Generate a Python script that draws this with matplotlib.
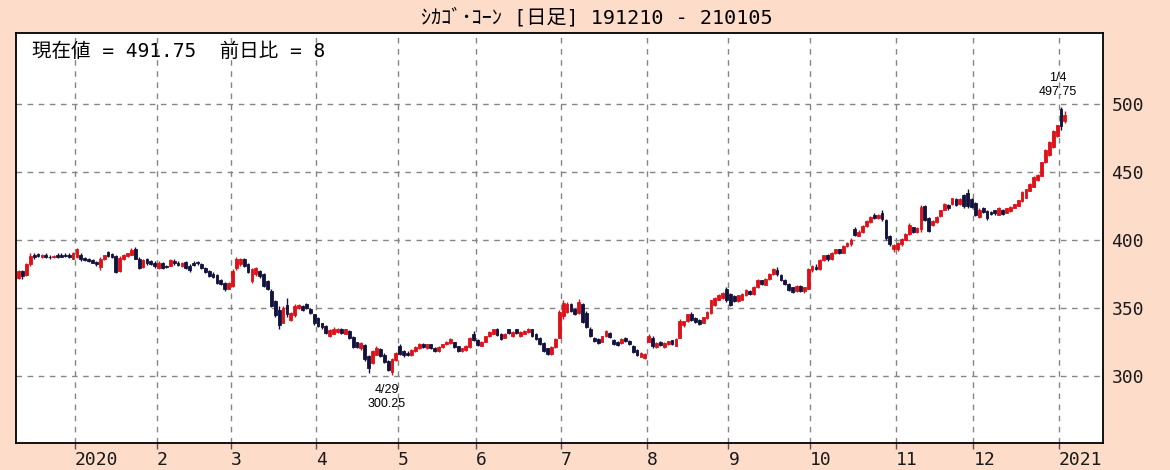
import matplotlib
matplotlib.use("Agg")
import matplotlib.pyplot as plt
import numpy as np
import pandas as pd

# ---------------- data ----------------
title = "ｼｶｺﾞ･ｺｰﾝ [日足] 191210 - 210105"
holidays = ["2019-12-25", "2020-01-01", "2020-01-20", "2020-02-17", "2020-04-10",
            "2020-05-25", "2020-07-03", "2020-09-07", "2020-11-26", "2020-12-25",
            "2021-01-01"]
yticks = [300, 350, 400, 450, 500]

opens = [
    # Dec 2019
    372, 377, 374, 382, 389, 389.25, 387.5, 389, 387.5, 387.25, 389, 388.5, 388.75, 389, 386,
    # Jan
    387, 389, 386.5, 385.5, 385, 383.5, 380, 385.5, 391, 389.5, 388, 377, 386, 388, 389, 393, 386, 380, 385.5, 384, 383,
    # Feb
    379, 382.5, 380.5, 381, 384.5, 383, 381, 383.5, 381, 383, 383.5, 382, 379.5, 377, 375, 374, 370, 368, 364,
    # Mar
    366, 379, 382, 385.5, 382, 369.5, 374.5, 377, 375, 369.5, 362.5, 355, 348, 339, 352, 341, 344.5, 349.5, 351, 353, 349, 345,
    # Apr
    342.5, 338.5, 336.5, 329.5, 331, 332, 334, 331, 333, 328.5, 324.5, 320, 322.5, 314.5, 309, 315.5, 319.5, 315.5, 310.5, 302.5, 311.5,
    # May
    322, 318, 317, 315, 318, 320, 323.5, 320, 323, 320.5, 318, 321, 323, 324, 324.5, 321.5, 318, 319, 321, 331,
    # Jun
    326, 322, 325, 329, 331, 334, 331, 328, 334, 329, 334, 329, 331, 332, 334, 331, 328, 324, 320, 316, 321, 328,
    # Jul
    344, 347, 352.5, 349, 346, 352.5, 346, 334.5, 328, 327, 325, 329, 331.5, 326.5, 325, 324, 328, 325.5, 322, 319, 314, 313,
    # Aug
    325, 328, 321, 325, 321, 323, 326, 322, 328, 337, 340, 345.5, 342.5, 341, 339, 342.5, 346, 352, 356, 357, 364,
    # Sep
    360, 358.5, 355, 356, 359, 362.5, 360, 365, 370, 367, 371, 374.5, 378, 374, 370.5, 367.5, 365, 362, 366, 362.5, 364,
    # Oct
    378, 380, 378.5, 385, 389, 385.5, 390, 393, 390.5, 395, 397, 408, 403, 405.5, 410, 413, 418.5, 416, 420, 414.5, 402.5, 393,
    # Nov
    393, 396.5, 400, 404, 409, 405.5, 408, 425, 416, 410.5, 413, 417.5, 422, 425.5, 426, 430, 426, 433, 434, 430,
    # Dec
    427, 416.5, 423.5, 421, 420.5, 421.5, 418.5, 422, 420, 421, 423.5, 425, 428.5, 431, 436, 439, 444, 447, 457, 462, 468, 476,
    # Jan 2021
    496, 487,
]

highs = [
    378, 378, 383, 390, 390, 390, 389.5, 390, 388.75, 388.5, 390.25, 390, 390.5, 390, 391,
    394, 390, 387, 386.5, 385.75, 384.5, 387, 389, 391.5, 390.5, 389, 388, 389.5, 390.5, 394, 394.5, 387, 386, 386.5, 385, 384,
    384, 383.5, 381.5, 386, 385.5, 384, 383.5, 384.5, 382, 384, 384, 382.5, 380, 377.5, 376, 374.5, 371, 369, 369,
    378.5, 387.5, 386.5, 386.5, 382.5, 379.5, 380, 377.5, 375.5, 370.5, 363.5, 356, 351, 351, 357, 346.5, 352.5, 352.5, 351.75, 353.5, 349.5, 345.5,
    343, 339, 337, 334, 335.5, 335, 334.75, 334.5, 333.5, 329, 325, 324.75, 323, 315, 319, 321.5, 320, 316.5, 311.5, 313, 317.5,
    323, 319, 318, 319.5, 321.5, 323.75, 324, 323.5, 323.5, 321, 321.5, 323.5, 325.5, 327.5, 325, 322, 320.5, 322.5, 328.5, 332.5,
    327, 325.5, 329.5, 332.5, 334.5, 334.75, 331.5, 331.5, 334.5, 332.5, 334.5, 332.5, 333.5, 334.75, 334.5, 331.5, 328.5, 324.5, 320.5, 321.5, 327.5, 348,
    356, 354.5, 353.5, 350, 356.5, 353.5, 347.5, 335.5, 328.5, 327.5, 329.5, 333.5, 332, 327, 325.5, 327.5, 328.5, 326, 322.5, 319.5, 317.5, 316.5,
    330.5, 329, 324.5, 325.5, 324.5, 325.75, 326.5, 327.5, 341.5, 340.5, 345.5, 346.5, 343, 341.5, 343.5, 347.5, 356, 357.5, 359.75, 361.5, 365.5,
    360.5, 359.5, 359.5, 360.5, 363.5, 363, 366, 371, 370.5, 371.5, 375.5, 379, 380, 374.5, 371, 368, 365.5, 366.5, 366.5, 365.5, 379.5,
    381.5, 382, 385.5, 389, 389.5, 391, 393.5, 393.5, 396, 398, 401, 409.5, 407, 410.5, 414.5, 417.5, 419.5, 419, 421.5, 415, 403.5, 397,
    398.5, 401, 405, 412, 409.5, 409, 425.5, 425.5, 416.5, 414.5, 417.5, 422, 427, 426, 431, 430.5, 430.5, 433.5, 437.5, 431,
    427.5, 423, 424, 421.5, 421, 422, 424, 422.5, 423.5, 424.5, 426.5, 429.5, 435.5, 437.5, 441.5, 446.5, 448, 457.5, 466.5, 472.5, 480.5, 484.5,
    497.75, 495,
]

lows = [
    371, 371, 373, 381, 386, 387, 386.75, 386.5, 386, 386.25, 386.5, 387, 387.25, 386.75, 385.5,
    386.5, 384.5, 384, 383.5, 382.5, 381, 378, 385, 387.5, 386.5, 375.5, 376, 385, 387.5, 388.5, 385.5, 378.5, 379.5, 381.5, 381.5, 379.5,
    378.5, 378.5, 379, 380.5, 381.5, 380.5, 380, 378.5, 376.5, 380.5, 381.5, 378.5, 375.5, 372.5, 371.5, 367.5, 366.5, 362.5, 363.5,
    365, 378, 381, 380, 375.5, 368, 373.5, 372, 365, 363, 350.5, 343, 334, 338.5, 343.5, 340, 343, 349, 347.5, 349, 345, 337.5,
    335.5, 334.5, 330.5, 328.5, 330.5, 331.5, 330.5, 330.5, 327, 320, 320.5, 319, 310.5, 302.25, 308.5, 315, 313.5, 309.5, 303.5, 300.25, 310.5,
    315, 314, 314.5, 314.5, 317.5, 319.5, 320.5, 319.5, 319.5, 317.5, 317.5, 320.5, 322.5, 323.5, 320.5, 317.5, 317.5, 318.5, 320.5, 325.5,
    321.5, 321.5, 324.5, 328.5, 330.5, 329.5, 326.5, 327.5, 330.5, 328.5, 330.5, 328.5, 330.5, 331.5, 328.5, 326.5, 322.5, 317.5, 315, 315.5, 320.5, 327.5,
    341.5, 346, 346.5, 344.5, 345.5, 338.5, 335, 328.5, 324.5, 323, 324.5, 328.5, 327.5, 322.5, 321.5, 323.5, 324.5, 322.5, 316.5, 314.5, 313.5, 312.5,
    324.5, 320, 320.5, 321.5, 320.5, 322.5, 322.5, 321.5, 327.5, 336, 339.5, 340.5, 338.5, 337.5, 338.5, 342, 345.5, 351.5, 355.5, 356.5, 354,
    351, 354, 354.5, 355.5, 358.5, 359.5, 359.5, 364.5, 366.5, 366.5, 370.5, 374, 373.5, 369.5, 366.5, 362.5, 360.5, 361.5, 361.5, 361, 363.5,
    376, 377.5, 378, 384.5, 384.5, 385, 389.5, 389.5, 390, 394.5, 395.5, 402.5, 402.5, 405, 409.5, 412.5, 415, 415.5, 414, 400, 395, 391,
    391.5, 395.5, 399.5, 403.5, 405, 405, 406, 413.5, 405.5, 410, 412.5, 417, 421.5, 422, 425.5, 424.5, 425.5, 423.5, 423, 423,
    417.5, 416, 419.5, 414.5, 418.5, 418.5, 418, 418.5, 419.5, 420.5, 423, 424.5, 428, 430.5, 435.5, 438.5, 443.5, 446.5, 456.5, 461.5, 467.5, 475.5,
    480.5, 485.5,
]

closes = [
    377, 373, 382, 388, 387, 387.75, 389, 387.25, 387, 388, 387, 387.5, 388, 387.5, 390.5,
    393, 385.5, 385, 384, 383, 382, 386, 388.5, 388, 387, 376.5, 386.5, 389, 390, 392.5, 386, 379.5, 385, 382.5, 382, 380.5,
    383, 379.5, 380, 385, 382.5, 381.5, 383, 379.5, 377.5, 381.5, 382.5, 379.5, 376.5, 373.5, 372.5, 368.5, 367.5, 363.5, 368,
    377, 386, 385.5, 381, 376.5, 378.5, 379, 373, 366, 364, 351.5, 344.5, 337, 349.5, 345, 346, 351.5, 352, 348.5, 350, 346, 339,
    336.5, 335.5, 331.5, 333.5, 334.5, 334.25, 331.25, 334, 328, 321, 321.25, 324, 312, 305.5, 318, 320.5, 314.5, 310.25, 304.5, 312, 316.5,
    316, 315, 315.25, 319, 321, 323, 321.25, 323, 320.25, 318.25, 321, 323, 325, 327, 321.25, 318.25, 320, 322, 328, 326.5,
    322.25, 325, 329, 332, 334, 330.25, 327.25, 331, 331.25, 332, 331.25, 332, 333, 334.25, 329.25, 327.25, 323.25, 318.25, 316, 321, 327, 346.5,
    353.5, 352.5, 347.5, 345.5, 354.5, 339.5, 336, 329.5, 325.25, 324, 329, 332.5, 328.25, 323.25, 322.25, 327, 325.25, 323.25, 317.25, 315.25, 317, 316,
    329.5, 321.5, 324, 322.25, 324, 325.25, 323.25, 327, 340.5, 340, 345, 341.25, 339.25, 338.25, 343, 347, 355.5, 357, 359.25, 361, 355.5,
    352, 355, 359, 360, 363, 360.25, 365.5, 370.5, 367.25, 371, 375, 378.5, 374.5, 370.25, 367.25, 363.25, 361.5, 366, 362.5, 365, 378.5,
    380.75, 378.5, 385, 388.5, 385.5, 390.5, 393, 390.5, 395.5, 397.5, 400, 403.5, 406, 410, 414, 417, 416, 418.5, 415, 401.5, 396.5, 396,
    397.5, 400.5, 404.5, 411, 405.75, 408.5, 424, 414.5, 406.5, 414, 417, 421.5, 426.5, 423, 430.5, 425.5, 430, 424.5, 424.5, 424,
    418.5, 422, 420.5, 416, 419.25, 419.5, 423.5, 419.25, 423, 424, 426, 429, 435, 437, 441, 446, 447.5, 457, 466, 472, 480, 484,
    483.75, 491.75,
]

# ---------------- derived ----------------
dates = pd.bdate_range("2019-12-10", "2021-01-05")
dates = dates[~dates.isin(pd.to_datetime(holidays))]
n = min(len(dates), len(opens), len(highs), len(lows), len(closes))
dates = dates[:n]
o = np.array(opens[:n], float)
h = np.array(highs[:n], float)
l = np.array(lows[:n], float)
c = np.array(closes[:n], float)
idx = np.arange(n)

BG = "#FDDCC9"
RED = "#DD1219"
NAVY = "#12123E"
GRID = "#858585"
MONO = ["DejaVu Sans Mono", "Noto Sans CJK JP"]

plt.rcParams["font.family"] = ["Noto Sans CJK JP", "DejaVu Sans"]

fig = plt.figure(figsize=(11.7, 4.7), dpi=100, facecolor=BG)
ax = fig.add_axes([16 / 1170, 27 / 470, 1087 / 1170, 410 / 470])
ax.set_facecolor("white")

# month boundaries
month_start = [i for i in range(n) if i > 0 and dates[i].month != dates[i - 1].month]
month_lbl = [str(dates[i].year) if dates[i].month == 1 else str(dates[i].month) for i in month_start]
month_pos = [i - 0.5 for i in month_start]

for y in yticks:
    ax.axhline(y, color=GRID, lw=1.0, ls=(0, (4, 4)), zorder=1)
for x in month_pos:
    ax.axvline(x, color=GRID, lw=1.0, ls=(0, (4, 4)), zorder=1)

up = c >= o
cols = np.where(up, RED, NAVY)
ax.vlines(idx, l, h, colors=cols, lw=1.0, zorder=3)
bottom = np.minimum(o, c)
height = np.abs(c - o)
ax.bar(idx, height, bottom=bottom, width=0.72, color=cols, edgecolor=cols,
       linewidth=0.6, zorder=4)

ax.set_xlim(-0.67, 278.8)
ax.set_ylim(250.5, 552)

ax.yaxis.tick_right()
ax.set_yticks(yticks)
ax.set_yticklabels([str(v) for v in yticks], fontsize=13, color="#1a1a1a", family=MONO)
ax.tick_params(axis="y", length=0, pad=6)

ax.set_xticks(month_pos)
ax.set_xticklabels(month_lbl, fontsize=13, color="#1a1a1a", ha="left", family=MONO)
ax.tick_params(axis="x", length=4, width=1, pad=2, color="#555555")

for s in ax.spines.values():
    s.set_color("black")
    s.set_linewidth(1.3)

# low / high annotations
imin = int(np.argmin(l))
imax = int(np.argmax(h))
lbl_font = ["Liberation Sans", "DejaVu Sans"]
ax.annotate(f"{dates[imin].month}/{dates[imin].day}\n{l[imin]:.2f}",
            xy=(imin, l[imin]), xytext=(-4, -6), textcoords="offset points",
            ha="center", va="top", fontsize=9, family=lbl_font, linespacing=1.3)
ax.annotate(f"{dates[imax].month}/{dates[imax].day}\n{h[imax]:.2f}",
            xy=(imax, h[imax]), xytext=(-2, 6), textcoords="offset points",
            ha="center", va="bottom", fontsize=9, family=lbl_font, linespacing=1.3)

# header texts
diff = c[-1] - c[-2]
diff_txt = f"{int(diff)}" if float(diff).is_integer() else f"{diff:g}"
info = f"現在値 = {c[-1]:.2f}  前日比 = {diff_txt}"
fig.text(32 / 1170, 1 - 51 / 470, info, ha="left", va="center", fontsize=14,
         color="black", family=MONO)
fig.text(597 / 1170, 1 - 17.5 / 470, title, ha="center", va="center", fontsize=14.5,
         color="black", family=MONO)

fig.savefig("out.png", dpi=100, facecolor=BG)
